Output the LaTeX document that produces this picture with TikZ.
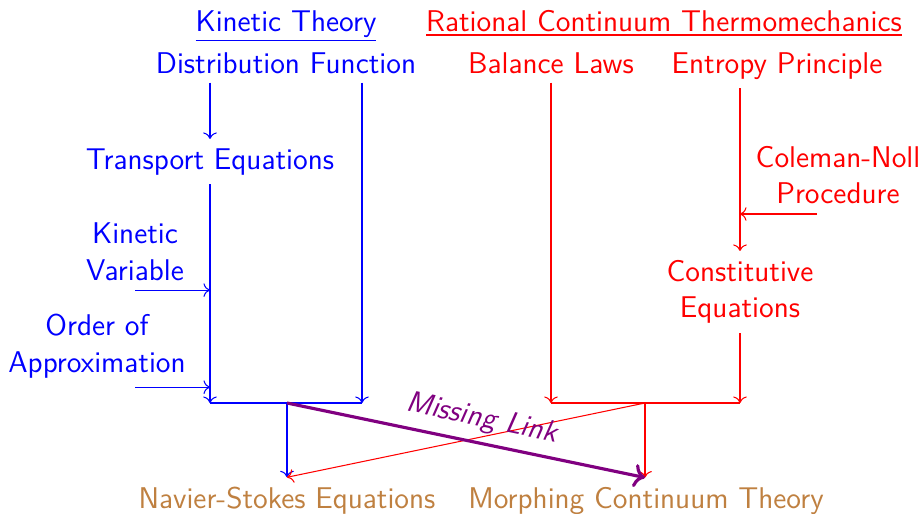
\documentclass[tikz,border=0pt]{standalone}
\usepackage{tikz}
\usetikzlibrary{arrows.meta, positioning, calc}

\begin{document}
\begin{tikzpicture}[
        x=0.01337cm, y=-0.01337cm,
        lbl/.style={font=\sffamily\fontsize{11.4}{13.9}\selectfont, align=center},
        kin/.style={lbl, text=blue},
        rat/.style={lbl, text=red},
        res/.style={lbl, text=brown},
        kline/.style={blue, ->},
        rline/.style={red, ->}
    ]
        \useasboundingbox (0,0) rectangle (922,514);

        % headings
        \node[kin, anchor=base] (kt) at (286,31) {\underline{Kinetic Theory}};
        \node[rat, anchor=base] (rct) at (664,31) {\underline{Rational Continuum Thermomechanics}};
        \node[kin, anchor=base] (dist) at (286,73) {Distribution Function};
        \node[rat, anchor=base] (bal) at (551,73) {Balance Laws};
        \node[rat, anchor=base] (ent) at (777,73) {Entropy Principle};

        \node[kin, anchor=base] (trans) at (210,169) {Transport Equations};
        \node[kin] (kvar) at (135,252) {Kinetic\\Variable};
        \node[kin] (order) at (97,346) {Order of\\Approximation};
        \node[rat] (cn) at (838,175) {Coleman-Noll\\Procedure};
        \node[rat] (const) at (740,292) {Constitutive\\Equations};

        \node[res, anchor=base] (ns) at (287,508) {Navier-Stokes Equations};
        \node[res, anchor=base] (mct) at (646,508) {Morphing Continuum Theory};

        % junctions
        \coordinate (jk) at (210,403);
        \coordinate (jkm) at (287,403);
        \coordinate (jkr) at (362,403);
        \coordinate (jr) at (551,403);
        \coordinate (jrm) at (645,403);
        \coordinate (jrr) at (740,403);
        \coordinate (cnin) at (817,214);

        % kinetic theory side
        \draw[kline] (dist.south -| trans) -- (trans);
        \draw[kline] (trans) -- (jk);
        \draw[kline] (dist.south -| jkr) -- (jkr);
        \draw[kline] (kvar.south) -- (kvar.south -| jk);
        \draw[kline] (order.south -| kvar) -- (order.south -| jk);
        \draw[blue] (jk) -- (jkr);
        \draw[kline] (jkm) -- (ns);

        % continuum side
        \draw[rline] (bal) -- (jr);
        \draw[rline] (ent.south -| const) -- (const);
        \draw[rline] (cnin) -- (cnin -| const);
        \draw[rline] (const) -- (jrr);
        \draw[red] (jr) -- (jrr);
        \draw[rline] (jrm) -- (jrm |- mct.north);
        \draw[rline] (jrm) -- (jkm |- ns.north);

        \draw[violet, very thick, ->] (jkm) -- (jrm |- mct.north)
            node[pos=0.53, sloped, above, lbl, font=\sffamily\itshape\fontsize{11.4}{13.9}\selectfont] {Missing Link};
    \end{tikzpicture}
\end{document}
